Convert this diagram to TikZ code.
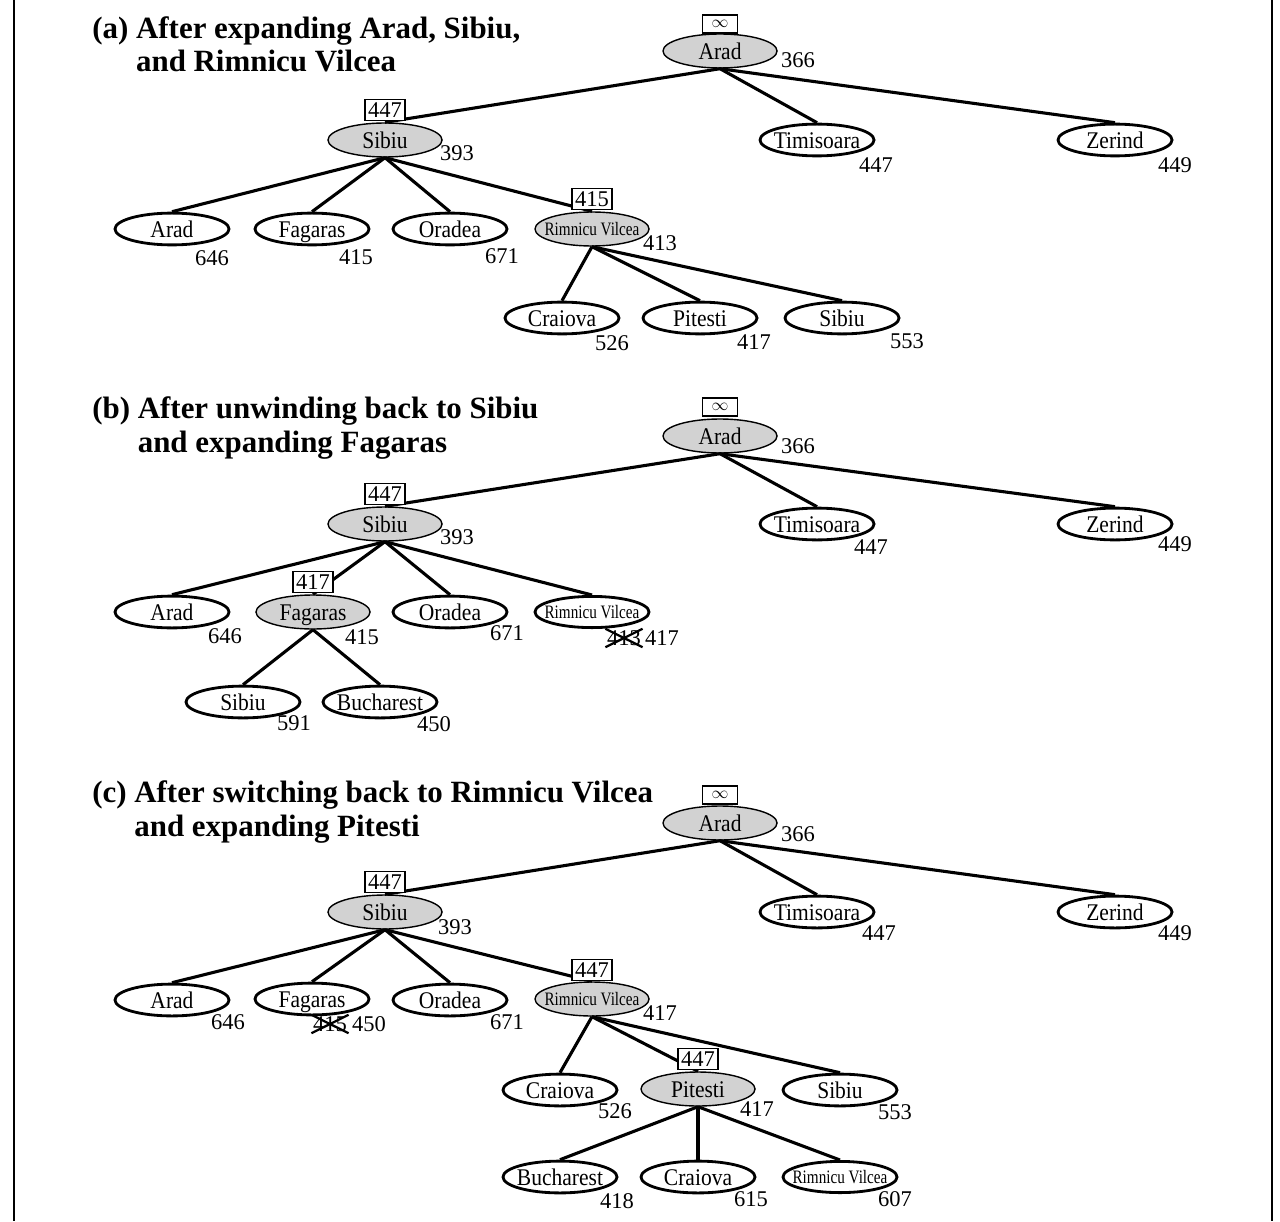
\documentclass[tikz,border=0pt]{standalone}
\usepackage{fontspec}
\setmainfont{Liberation Serif}
\newfontfamily\cityfont[FakeStretch=0.9]{Liberation Serif}
\newfontfamily\narrowfont[FakeStretch=0.8]{Liberation Serif}
\usetikzlibrary{shapes.geometric}

\begin{document}
\begin{tikzpicture}[x=0.025cm, y=-0.025cm,
  city/.style={ellipse, draw, line width=2pt, minimum width=2.85cm, minimum height=0.78cm, inner xsep=-0.2cm, inner ysep=0pt, text height=14pt, text depth=2pt, font=\cityfont\fontsize{17}{19}\selectfont},
  open/.style={city, fill=gray!35, line width=1pt, minimum height=0.85cm},
  small/.style={text height=11.5pt, text depth=2pt, font=\narrowfont\fontsize{13.5}{15}\selectfont},
  fval/.style={inner sep=1pt, font=\fontsize{16}{18}\selectfont},
  bound/.style={draw, fill=white, line width=0.8pt, inner sep=1pt, minimum width=1cm, minimum height=0.52cm, font=\fontsize{16}{18}\selectfont},
  inf/.style={bound, minimum width=0.88cm, minimum height=0.45cm, font=\fontsize{13}{14}\selectfont},
  branch/.style={line width=2.2pt},
  struck/.style={line width=1.6pt},
  title/.style={anchor=base west, align=left, inner sep=0pt, font=\fontsize{22}{24}\selectfont\bfseries}]
\useasboundingbox (0,0) rectangle (1280,1221);
% frame
\draw[line width=2pt] (14,0) -- (14,1221);
\draw[line width=2pt] (1272,0) -- (1272,1221);

% (a) titles
\node[title] (ta) at (92,72) {(a) After expanding Arad, Sibiu,\\\phantom{(a) }and Rimnicu Vilcea};
% (a) tree
\node[open] (aArad) at (720,51) {Arad};
\node[open] (aSibiu) at (385,140) {Sibiu};
\node[city] (aTim) at (817,140) {Timisoara};
\node[city] (aZer) at (1115,140) {Zerind};
\node[city] (aArad2) at (172,229) {Arad};
\node[city] (aFag) at (312,229) {Fagaras};
\node[city] (aOra) at (450,229) {Oradea};
\node[open, small] (aRV) at (592,229) {Rimnicu Vilcea};
\node[city] (aCra) at (562,318) {Craiova};
\node[city] (aPit) at (700,318) {Pitesti};
\node[city] (aSib2) at (842,318) {Sibiu};
\draw[branch] (aArad.south) -- (aSibiu.north);
\draw[branch] (aArad.south) -- (aTim.north);
\draw[branch] (aArad.south) -- (aZer.north);
\draw[branch] (aSibiu.south) -- (aArad2.north);
\draw[branch] (aSibiu.south) -- (aFag.north);
\draw[branch] (aSibiu.south) -- (aOra.north);
\draw[branch] (aSibiu.south) -- (aRV.north);
\draw[branch] (aRV.south) -- (aCra.north);
\draw[branch] (aRV.south) -- (aPit.north);
\draw[branch] (aRV.south) -- (aSib2.north);
% (a) bounds and f-values
\node[inf] (aAradb) at (720,24) {$\infty$};
\node[bound] (aSibiub) at (385,110) {447};
\node[bound] (aRVb) at (592,199) {415};
\node[fval] (aAradf) at (798,60) {366};
\node[fval] (aSibiuf) at (457,153) {393};
\node[fval] (aTimf) at (876,165) {447};
\node[fval] (aZerf) at (1175,165) {449};
\node[fval] (aArad2f) at (212,258) {646};
\node[fval] (aFagf) at (356,257) {415};
\node[fval] (aOraf) at (502,256) {671};
\node[fval] (aRVf) at (660,243) {413};
\node[fval] (aCraf) at (612,343) {526};
\node[fval] (aPitf) at (754,342) {417};
\node[fval] (aSib2f) at (907,341) {553};

% (b) titles
\node[title] (tb) at (92,452) {(b) After unwinding back to Sibiu\\\phantom{(b) }and expanding Fagaras};
% (b) tree
\node[open] (bArad) at (720,436) {Arad};
\node[open] (bSibiu) at (385,524) {Sibiu};
\node[city] (bTim) at (817,524) {Timisoara};
\node[city] (bZer) at (1115,524) {Zerind};
\node[city] (bArad2) at (172,612) {Arad};
\node[open] (bFag) at (313,612) {Fagaras};
\node[city] (bOra) at (450,612) {Oradea};
\node[city, small] (bRV) at (592,612) {Rimnicu Vilcea};
\node[city] (bSib2) at (243,702) {Sibiu};
\node[city] (bBuc) at (380,702) {Bucharest};
\draw[branch] (bArad.south) -- (bSibiu.north);
\draw[branch] (bArad.south) -- (bTim.north);
\draw[branch] (bArad.south) -- (bZer.north);
\draw[branch] (bSibiu.south) -- (bArad2.north);
\draw[branch] (bSibiu.south) -- (bFag.north);
\draw[branch] (bSibiu.south) -- (bOra.north);
\draw[branch] (bSibiu.south) -- (bRV.north);
\draw[branch] (bFag.south) -- (bSib2.north);
\draw[branch] (bFag.south) -- (bBuc.north);
% (b) bounds and f-values
\node[inf] (bAradb) at (720,407) {$\infty$};
\node[bound] (bSibiub) at (385,494) {447};
\node[bound] (bFagb) at (313,582) {417};
\node[fval] (bAradf) at (798,446) {366};
\node[fval] (bSibiuf) at (457,537) {393};
\node[fval] (bTimf) at (871,547) {447};
\node[fval] (bZerf) at (1175,544) {449};
\node[fval] (bArad2f) at (225,636) {646};
\node[fval] (bFagf) at (362,637) {415};
\node[fval] (bOraf) at (507,633) {671};
\node[fval] (bRVold) at (624,638) {413};
\draw[struck] (bRVold.south west) -- (bRVold.north east) (bRVold.north west) -- (bRVold.south east);
\node[fval] (bRVf) at (662,638) {417};
\node[fval] (bSib2f) at (294,723) {591};
\node[fval] (bBucf) at (434,724) {450};

% (c) titles
\node[title] (tc) at (92,836) {(c) After switching back to Rimnicu Vilcea\\\phantom{(c) }and expanding Pitesti};
% (c) tree
\node[open] (cArad) at (720,823) {Arad};
\node[open] (cSibiu) at (385,912) {Sibiu};
\node[city] (cTim) at (817,912) {Timisoara};
\node[city] (cZer) at (1115,912) {Zerind};
\node[city] (cArad2) at (172,1000) {Arad};
\node[city] (cFag) at (312,999) {Fagaras};
\node[city] (cOra) at (450,1000) {Oradea};
\node[open, small] (cRV) at (592,999) {Rimnicu Vilcea};
\node[city] (cCra) at (560,1090) {Craiova};
\node[open] (cPit) at (698,1089) {Pitesti};
\node[city] (cSib2) at (840,1090) {Sibiu};
\node[city] (cBuc) at (560,1177) {Bucharest};
\node[city] (cCra2) at (698,1177) {Craiova};
\node[city, small] (cRV2) at (840,1177) {Rimnicu Vilcea};
\draw[branch] (cArad.south) -- (cSibiu.north);
\draw[branch] (cArad.south) -- (cTim.north);
\draw[branch] (cArad.south) -- (cZer.north);
\draw[branch] (cSibiu.south) -- (cArad2.north);
\draw[branch] (cSibiu.south) -- (cFag.north);
\draw[branch] (cSibiu.south) -- (cOra.north);
\draw[branch] (cSibiu.south) -- (cRV.north);
\draw[branch] (cRV.south) -- (cCra.north);
\draw[branch] (cRV.south) -- (cPit.north);
\draw[branch] (cRV.south) -- (cSib2.north);
\draw[branch] (cPit.south) -- (cBuc.north);
\draw[branch] (cPit.south) -- (cCra2.north);
\draw[branch] (cPit.south) -- (cRV2.north);
% (c) bounds and f-values
\node[inf] (cAradb) at (720,795) {$\infty$};
\node[bound] (cSibiub) at (385,882) {447};
\node[bound] (cRVb) at (592,970) {447};
\node[bound] (cPitb) at (698,1059) {447};
\node[fval] (cAradf) at (798,834) {366};
\node[fval] (cSibiuf) at (455,927) {393};
\node[fval] (cTimf) at (879,933) {447};
\node[fval] (cZerf) at (1175,933) {449};
\node[fval] (cArad2f) at (228,1022) {646};
\node[fval] (cFagold) at (330,1024) {415};
\draw[struck] (cFagold.south west) -- (cFagold.north east) (cFagold.north west) -- (cFagold.south east);
\node[fval] (cFagf) at (369,1024) {450};
\node[fval] (cOraf) at (507,1022) {671};
\node[fval] (cRVf) at (660,1013) {417};
\node[fval] (cCraf) at (615,1111) {526};
\node[fval] (cPitf) at (757,1109) {417};
\node[fval] (cSib2f) at (895,1112) {553};
\node[fval] (cBucf) at (617,1201) {418};
\node[fval] (cCra2f) at (751,1199) {615};
\node[fval] (cRV2f) at (895,1199) {607};
\end{tikzpicture}
\end{document}
